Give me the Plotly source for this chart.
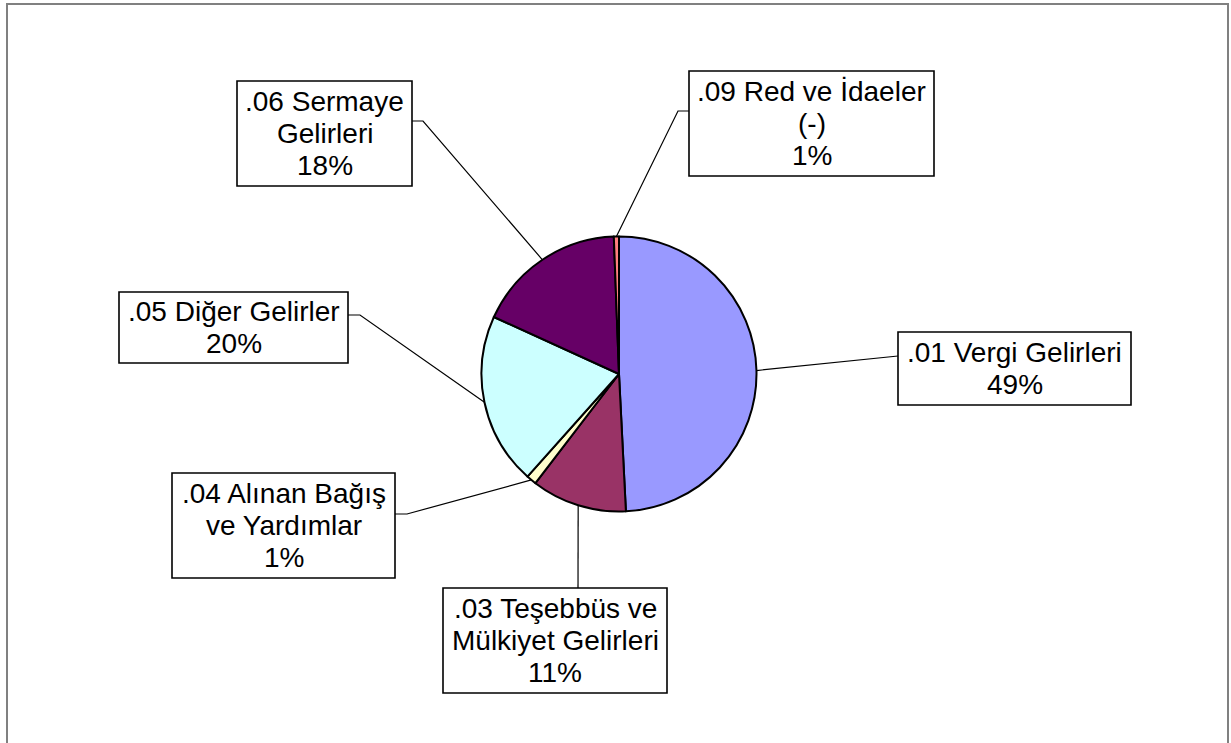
import math
import plotly.graph_objects as go

# ---- data ----
categories = [
    ".01 Vergi Gelirleri",
    ".03 Teşebbüs ve Mülkiyet Gelirleri",
    ".04 Alınan Bağış ve Yardımlar",
    ".05 Diğer Gelirler",
    ".06 Sermaye Gelirleri",
    ".09 Red ve İdaeler (-)",
]
values = [49.2, 11.2, 1.2, 20.2, 17.6, 0.6]
colors = ["#9999FF", "#993366", "#FFFFCC", "#CCFFFF", "#660066", "#FF8080"]
label_lines = [
    [".01 Vergi Gelirleri"],
    [".03 Teşebbüs ve", "Mülkiyet Gelirleri"],
    [".04 Alınan Bağış", "ve Yardımlar"],
    [".05 Diğer Gelirler"],
    [".06 Sermaye", "Gelirleri"],
    [".09 Red ve İdaeler", "(-)"],
]

# ---- layout (pixels) ----
W, H = 1231, 743
CX, CY, R = 619, 374, 137.5
boxes = [  # x0, x1, y0, y1
    (898, 1131, 332, 405),
    (443, 667, 588, 693),
    (172, 395, 473, 578),
    (119, 348, 292, 363),
    (237, 412, 81, 186),
    (689, 934, 71, 176),
]
attach = [(898, 356), (578, 588), (395, 514), (348, 315), (412, 121), (689, 111)]
elbow = [(898, 356), (578, 588), (407, 514), (360, 315), (423, 121), (678, 111)]
LINE_PITCH = 32
FONT = dict(family="Arial, 'Liberation Sans', sans-serif", size=28, color="black")

total = sum(values)
fig = go.Figure()

fig.add_trace(go.Pie(
    labels=categories, values=values, sort=False, direction="clockwise", rotation=0,
    marker=dict(colors=colors, line=dict(color="black", width=2)),
    textinfo="none", hoverinfo="label+percent", showlegend=False,
    domain=dict(x=[(CX - R) / W, (CX + R) / W], y=[1 - (CY + R) / H, 1 - (CY - R) / H]),
))

shapes = [dict(type="rect", xref="x", yref="y", x0=7, x1=1228, y0=4, y1=748,
               line=dict(color="#808080", width=2), fillcolor="rgba(0,0,0,0)")]
annotations = []
cum = 0.0
for i, v in enumerate(values):
    mid = (cum + v / 2) / total * 2 * math.pi
    cum += v
    px = CX + R * math.sin(mid)
    py = CY - R * math.cos(mid)
    fig.add_trace(go.Scatter(
        x=[px, elbow[i][0], attach[i][0]], y=[py, elbow[i][1], attach[i][1]],
        mode="lines", line=dict(color="black", width=1.2), hoverinfo="skip", showlegend=False,
    ))
    x0, x1, y0, y1 = boxes[i]
    shapes.append(dict(type="rect", xref="x", yref="y", x0=x0, x1=x1, y0=y0, y1=y1,
                       line=dict(color="black", width=1.6), fillcolor="white", layer="above"))
    lines = label_lines[i] + [f"{round(v / total * 100):.0f}%"]
    n = len(lines)
    xc = (x0 + x1) / 2
    yc = (y0 + y1) / 2
    for j, t in enumerate(lines):
        annotations.append(dict(
            x=xc, y=yc + (j - (n - 1) / 2) * LINE_PITCH, xref="x", yref="y",
            text=t, showarrow=False, font=FONT, xanchor="center", yanchor="middle",
        ))

fig.update_layout(
    width=W, height=H, margin=dict(l=0, r=0, t=0, b=0),
    paper_bgcolor="white", plot_bgcolor="rgba(0,0,0,0)",
    xaxis=dict(range=[0, W], visible=False, fixedrange=True),
    yaxis=dict(range=[H, 0], visible=False, fixedrange=True),
    shapes=shapes, annotations=annotations, showlegend=False,
)

fig.write_html("out.html", config={"displayModeBar": False},
               post_script="document.body.style.margin='0';")
